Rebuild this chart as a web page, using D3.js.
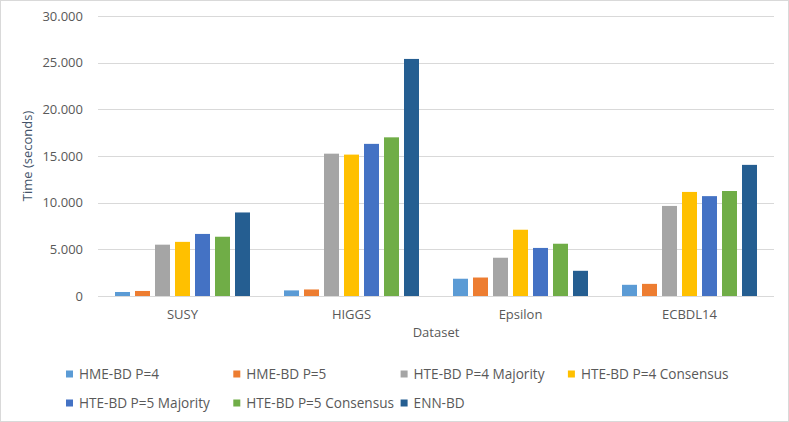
<!DOCTYPE html>
<html>
<head>
<meta charset="utf-8">
<script src="https://cdn.jsdelivr.net/npm/d3@7"></script>
<style>
  body { margin: 0; background: #fff; }
  svg text { font-family: "Open Sans", sans-serif; fill: #595959; }
</style>
</head>
<body>
<div id="chart"></div>
<script>
// Data
const datasets = ["SUSY", "HIGGS", "Epsilon", "ECBDL14"];
const seriesNames = ["HME-BD P=4", "HME-BD P=5", "HTE-BD P=4 Majority", "HTE-BD P=4 Consensus",
                     "HTE-BD P=5 Majority", "HTE-BD P=5 Consensus", "ENN-BD"];
const hmeP4 = [430, 600, 1850, 1200];
const hmeP5 = [540, 700, 1980, 1300];
const hteP4Maj = [5500, 15250, 4100, 9650];
const hteP4Con = [5800, 15150, 7100, 11150];
const hteP5Maj = [6650, 16300, 5150, 10700];
const hteP5Con = [6350, 17000, 5600, 11250];
const ennBD = [8950, 25400, 2700, 14050];
const yTicks = [0, 5000, 10000, 15000, 20000, 25000, 30000];
const colors = ["#5B9BD5", "#ED7D31", "#A5A5A5", "#FFC000", "#4472C4", "#70AD47", "#255E91"];

const series = [hmeP4, hmeP5, hteP4Maj, hteP4Con, hteP5Maj, hteP5Con, ennBD];

const W = 789, H = 422;
const plot = { left: 98, right: 774, top: 16, bottom: 296 };
const groupWidth = 135;

const svg = d3.select("#chart").append("svg")
    .attr("width", W)
    .attr("height", H);

// chart border
svg.append("rect")
    .attr("x", 0.5).attr("y", 0.5)
    .attr("width", W - 1).attr("height", H - 1)
    .attr("fill", "#fff")
    .attr("stroke", "#d9d9d9");

const x0 = d3.scaleBand()
    .domain(datasets)
    .range([plot.left, plot.right]);

const x1 = d3.scaleBand()
    .domain(d3.range(series.length))
    .range([0, groupWidth])
    .paddingInner(0.25);

const y = d3.scaleLinear()
    .domain([0, 30000])
    .range([plot.bottom, plot.top]);

// gridlines
svg.append("g")
    .selectAll("line")
    .data(yTicks)
    .join("line")
    .attr("x1", plot.left).attr("x2", plot.right)
    .attr("y1", d => Math.round(y(d)) + 0.5)
    .attr("y2", d => Math.round(y(d)) + 0.5)
    .attr("stroke", "#d9d9d9")
    .attr("stroke-width", 1);

// y tick labels, dot as thousands separator
const fmt = d => d3.format(",")(d).replace(/,/g, ".");
svg.append("g")
    .selectAll("text")
    .data(yTicks)
    .join("text")
    .attr("x", 83)
    .attr("y", d => y(d))
    .attr("dy", "0.35em")
    .attr("text-anchor", "end")
    .style("font-size", "13px")
    .text(d => fmt(d));

// bars
const groups = svg.append("g")
    .selectAll("g")
    .data(datasets)
    .join("g")
    .attr("transform", d => `translate(${x0(d) + (x0.bandwidth() - groupWidth) / 2},0)`);

groups.selectAll("rect")
    .data((d, i) => series.map((s, k) => ({ k: k, v: s[i] })))
    .join("rect")
    .attr("x", d => x1(d.k))
    .attr("width", x1.bandwidth())
    .attr("y", d => y(d.v))
    .attr("height", d => y(0) - y(d.v))
    .attr("fill", d => colors[d.k]);

// category labels
svg.append("g")
    .selectAll("text")
    .data(datasets)
    .join("text")
    .attr("x", d => x0(d) + x0.bandwidth() / 2)
    .attr("y", 314)
    .attr("dy", "0.35em")
    .attr("text-anchor", "middle")
    .style("font-size", "13px")
    .text(d => d);

// axis titles
svg.append("text")
    .attr("x", (plot.left + plot.right) / 2)
    .attr("y", 332)
    .attr("dy", "0.35em")
    .attr("text-anchor", "middle")
    .style("font-size", "13px")
    .text("Dataset");

svg.append("text")
    .attr("transform", "translate(27,156) rotate(-90)")
    .attr("dy", "0.35em")
    .attr("text-anchor", "middle")
    .style("font-size", "13px")
    .style("fill", "#44546A")
    .text("Time (seconds)");

// legend
const legend = svg.append("g")
    .selectAll("g")
    .data(seriesNames)
    .join("g")
    .attr("transform", (d, i) => `translate(${66 + (i % 4) * 167.3},${i < 4 ? 374 : 403})`);

legend.append("rect")
    .attr("x", 0).attr("y", -3.5)
    .attr("width", 7).attr("height", 7)
    .attr("fill", (d, i) => colors[i]);

legend.append("text")
    .attr("x", 13)
    .attr("y", 0)
    .attr("dy", "0.35em")
    .style("font-size", "13.6px")
    .text(d => d);
</script>
</body>
</html>
